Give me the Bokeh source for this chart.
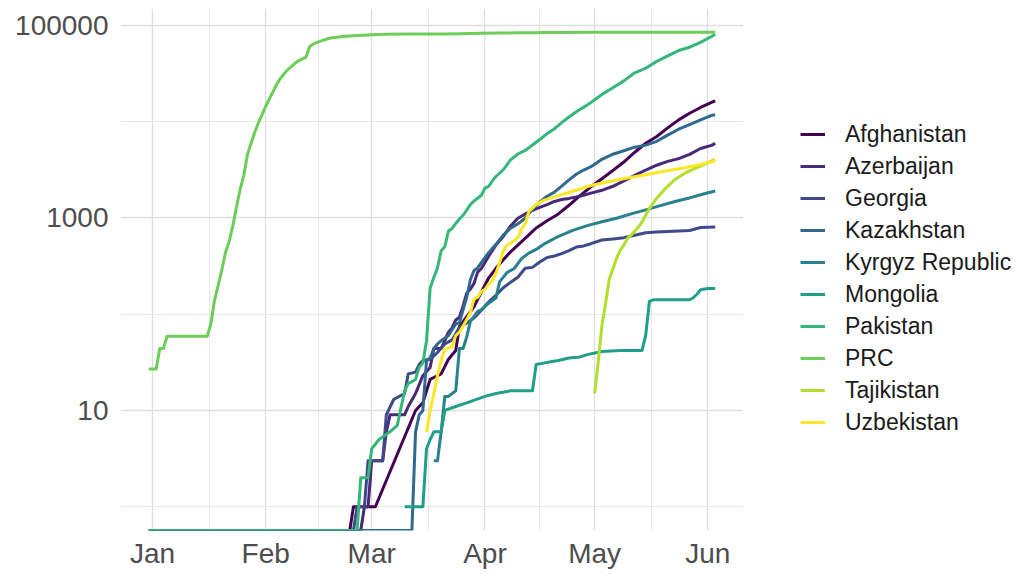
import numpy as np
import pandas as pd
from bokeh.plotting import figure
from bokeh.layouts import row
from bokeh.models import (Range1d, FixedTicker, NumeralTickFormatter,
                          DatetimeTickFormatter, Legend, LegendItem)
from bokeh.embed import file_html
from bokeh.resources import INLINE

countries = ["Afghanistan", "Azerbaijan", "Georgia", "Kazakhstan", "Kyrgyz Republic",
             "Mongolia", "Pakistan", "PRC", "Tajikistan", "Uzbekistan"]
colors = ["#440154", "#482878", "#3E4A89", "#31688E", "#26828E",
          "#1F9E89", "#35B779", "#6DCD59", "#B4DE2C", "#FDE725"]

afg_dates = ["2019-12-31", "2020-02-24", "2020-02-25", "2020-03-02", "2020-03-13", "2020-03-14",
             "2020-03-15", "2020-03-16", "2020-03-17", "2020-03-18", "2020-03-20", "2020-03-22",
             "2020-03-24", "2020-03-25", "2020-03-27", "2020-03-29", "2020-03-31", "2020-04-02",
             "2020-04-04", "2020-04-06", "2020-04-08", "2020-04-10", "2020-04-13", "2020-04-15",
             "2020-04-18", "2020-04-21", "2020-04-24", "2020-04-27", "2020-04-30", "2020-05-03",
             "2020-05-06", "2020-05-09", "2020-05-12", "2020-05-15", "2020-05-18", "2020-05-21",
             "2020-05-24", "2020-05-27", "2020-05-30", "2020-06-02", "2020-06-03"]
afg_cases = [0, 0, 1, 1, 10, 11, 12, 16, 21, 22, 24, 34, 42, 74, 94, 120, 170, 237, 299, 367,
             444, 521, 665, 784, 933, 1092, 1351, 1703, 2100, 2550, 3100, 3800, 4800, 5950,
             7000, 8600, 10400, 12200, 14000, 15800, 16400]

aze_dates = ["2019-12-31", "2020-02-27", "2020-02-28", "2020-02-29", "2020-03-01", "2020-03-04",
             "2020-03-05", "2020-03-06", "2020-03-10", "2020-03-11", "2020-03-13", "2020-03-15",
             "2020-03-17", "2020-03-18", "2020-03-20", "2020-03-21", "2020-03-22", "2020-03-23",
             "2020-03-24", "2020-03-25", "2020-03-26", "2020-03-27", "2020-03-28", "2020-03-29",
             "2020-03-30", "2020-03-31", "2020-04-02", "2020-04-04", "2020-04-06", "2020-04-08",
             "2020-04-10", "2020-04-12", "2020-04-14", "2020-04-16", "2020-04-18", "2020-04-20",
             "2020-04-22", "2020-04-24", "2020-04-26", "2020-04-28", "2020-04-30", "2020-05-03",
             "2020-05-06", "2020-05-09", "2020-05-12", "2020-05-15", "2020-05-18", "2020-05-21",
             "2020-05-24", "2020-05-27", "2020-05-30", "2020-06-02", "2020-06-03"]
aze_cases = [0, 0, 1, 1, 3, 3, 6, 9, 9, 11, 15, 23, 28, 44, 44, 53, 65, 72, 87, 93, 122, 165,
             182, 209, 273, 298, 400, 521, 641, 822, 991, 1098, 1197, 1283, 1373, 1480, 1548,
             1592, 1645, 1717, 1804, 1932, 2127, 2422, 2758, 3138, 3518, 3855, 4122, 4568, 5246,
             5662, 5935]

geo_dates = ["2019-12-31", "2020-02-25", "2020-02-26", "2020-02-28", "2020-02-29", "2020-03-04",
             "2020-03-05", "2020-03-07", "2020-03-10", "2020-03-11", "2020-03-13", "2020-03-14",
             "2020-03-15", "2020-03-17", "2020-03-19", "2020-03-21", "2020-03-23", "2020-03-25",
             "2020-03-27", "2020-03-29", "2020-03-31", "2020-04-02", "2020-04-04", "2020-04-06",
             "2020-04-08", "2020-04-10", "2020-04-12", "2020-04-14", "2020-04-16", "2020-04-18",
             "2020-04-20", "2020-04-22", "2020-04-24", "2020-04-26", "2020-04-28", "2020-04-30",
             "2020-05-03", "2020-05-06", "2020-05-09", "2020-05-12", "2020-05-15", "2020-05-18",
             "2020-05-21", "2020-05-24", "2020-05-27", "2020-05-30", "2020-06-03"]
geo_cases = [0, 0, 1, 1, 3, 3, 9, 13, 15, 24, 25, 30, 33, 34, 40, 49, 54, 73, 81, 91, 110, 134,
             157, 188, 214, 242, 300, 306, 348, 388, 402, 425, 456, 497, 511, 539, 589, 604, 623,
             660, 701, 713, 721, 732, 738, 794, 805]

kaz_dates = ["2019-12-31", "2020-03-12", "2020-03-13", "2020-03-14", "2020-03-15", "2020-03-16",
             "2020-03-17", "2020-03-18", "2020-03-19", "2020-03-20", "2020-03-22", "2020-03-24",
             "2020-03-25", "2020-03-26", "2020-03-27", "2020-03-28", "2020-03-29", "2020-03-30",
             "2020-03-31", "2020-04-02", "2020-04-04", "2020-04-06", "2020-04-08", "2020-04-10",
             "2020-04-12", "2020-04-14", "2020-04-16", "2020-04-18", "2020-04-20", "2020-04-22",
             "2020-04-24", "2020-04-26", "2020-04-28", "2020-04-30", "2020-05-03", "2020-05-06",
             "2020-05-09", "2020-05-12", "2020-05-15", "2020-05-18", "2020-05-21", "2020-05-24",
             "2020-05-27", "2020-05-30", "2020-06-02", "2020-06-03"]
kaz_cases = [0, 0, 6, 9, 10, 33, 35, 44, 49, 53, 60, 79, 81, 111, 150, 228, 284, 302, 343, 435,
             531, 662, 781, 865, 990, 1232, 1459, 1676, 1852, 2135, 2482, 2835, 3138, 3402, 4049,
             4578, 4975, 5417, 5689, 6236, 7234, 8322, 9304, 10382, 11571, 11796]

kgz_dates = ["2020-03-18", "2020-03-19", "2020-03-20", "2020-03-21", "2020-03-22", "2020-03-24",
             "2020-03-25", "2020-03-26", "2020-03-27", "2020-03-28", "2020-03-30", "2020-03-31",
             "2020-04-02", "2020-04-04", "2020-04-05", "2020-04-07", "2020-04-09", "2020-04-11",
             "2020-04-13", "2020-04-15", "2020-04-17", "2020-04-21", "2020-04-25", "2020-04-29",
             "2020-05-03", "2020-05-07", "2020-05-11", "2020-05-15", "2020-05-19", "2020-05-23",
             "2020-05-27", "2020-05-31", "2020-06-03"]
kgz_cases = [3, 3, 6, 14, 14, 16, 44, 44, 58, 84, 107, 111, 130, 147, 216, 270, 298, 377, 430,
             470, 530, 640, 740, 830, 910, 990, 1100, 1210, 1340, 1480, 1610, 1780, 1900]

mng_dates = ["2020-03-10", "2020-03-15", "2020-03-16", "2020-03-17", "2020-03-18", "2020-03-20",
             "2020-03-21", "2020-03-24", "2020-03-27", "2020-04-01", "2020-04-04", "2020-04-08",
             "2020-04-14", "2020-04-15", "2020-04-17", "2020-04-19", "2020-04-21", "2020-04-24",
             "2020-04-27", "2020-04-29", "2020-05-03", "2020-05-08", "2020-05-14", "2020-05-15",
             "2020-05-16", "2020-05-17", "2020-05-27", "2020-05-28", "2020-05-29", "2020-05-30",
             "2020-06-01", "2020-06-03"]
mng_cases = [1, 1, 4, 5, 6, 6, 10, 11, 12, 14, 15, 16, 16, 30, 31, 32, 33, 35, 36, 38, 41, 42,
             42, 61, 136, 141, 141, 148, 161, 179, 185, 185]

pak_dates = ["2019-12-31", "2020-02-26", "2020-02-27", "2020-02-29", "2020-03-01", "2020-03-03",
             "2020-03-06", "2020-03-08", "2020-03-10", "2020-03-11", "2020-03-13", "2020-03-14",
             "2020-03-15", "2020-03-16", "2020-03-17", "2020-03-18", "2020-03-19", "2020-03-20",
             "2020-03-21", "2020-03-22", "2020-03-23", "2020-03-24", "2020-03-25", "2020-03-26",
             "2020-03-27", "2020-03-28", "2020-03-29", "2020-03-30", "2020-03-31", "2020-04-01",
             "2020-04-02", "2020-04-03", "2020-04-04", "2020-04-06", "2020-04-08", "2020-04-10",
             "2020-04-12", "2020-04-14", "2020-04-16", "2020-04-18", "2020-04-20", "2020-04-22",
             "2020-04-24", "2020-04-26", "2020-04-28", "2020-04-30", "2020-05-03", "2020-05-06",
             "2020-05-09", "2020-05-12", "2020-05-15", "2020-05-18", "2020-05-21", "2020-05-24",
             "2020-05-27", "2020-05-30", "2020-06-02", "2020-06-03"]
pak_cases = [0, 0, 2, 2, 4, 5, 6, 7, 16, 19, 21, 28, 31, 53, 187, 241, 302, 454, 501, 730, 776,
             875, 972, 1063, 1201, 1373, 1495, 1597, 1717, 2039, 2118, 2421, 2686, 3157, 4004,
             4601, 5011, 5716, 6505, 7481, 8418, 9749, 11155, 12657, 14079, 15759, 19103, 22413,
             26435, 32081, 35788, 42125, 48091, 54601, 59151, 66457, 76398, 80463]

prc_dates = ["2019-12-31", "2020-01-02", "2020-01-03", "2020-01-04", "2020-01-05", "2020-01-16",
             "2020-01-17", "2020-01-18", "2020-01-19", "2020-01-20", "2020-01-21", "2020-01-22",
             "2020-01-23", "2020-01-24", "2020-01-25", "2020-01-26", "2020-01-27", "2020-01-28",
             "2020-01-29", "2020-01-30", "2020-01-31", "2020-02-01", "2020-02-02", "2020-02-03",
             "2020-02-04", "2020-02-05", "2020-02-06", "2020-02-07", "2020-02-08", "2020-02-09",
             "2020-02-10", "2020-02-11", "2020-02-12", "2020-02-13", "2020-02-14", "2020-02-15",
             "2020-02-16", "2020-02-17", "2020-02-18", "2020-02-19", "2020-02-20", "2020-02-22",
             "2020-02-24", "2020-02-26", "2020-02-28", "2020-03-01", "2020-03-05", "2020-03-10",
             "2020-03-15", "2020-03-20", "2020-03-25", "2020-03-31", "2020-04-05", "2020-04-10",
             "2020-04-15", "2020-04-17", "2020-04-20", "2020-05-01", "2020-05-15", "2020-06-03"]
prc_cases = [27, 27, 44, 44, 59, 59, 80, 141, 200, 291, 440, 571, 830, 1297, 1985, 2761, 4537,
             5997, 7736, 9720, 11821, 14411, 17238, 20471, 24363, 28060, 31211, 34598, 37251,
             40235, 42708, 44730, 46550, 59804, 63851, 66492, 68500, 70548, 72436, 74185, 74576,
             76288, 77150, 78064, 78824, 79824, 80552, 80904, 81048, 81300, 81747, 82545, 83005,
             83369, 83745, 84149, 84237, 84385, 84487, 84602]

tjk_dates = ["2020-05-01", "2020-05-02", "2020-05-03", "2020-05-04", "2020-05-05", "2020-05-06",
             "2020-05-07", "2020-05-08", "2020-05-09", "2020-05-10", "2020-05-11", "2020-05-12",
             "2020-05-13", "2020-05-14", "2020-05-16", "2020-05-18", "2020-05-20", "2020-05-23",
             "2020-05-26", "2020-05-28", "2020-05-30", "2020-06-01", "2020-06-03"]
tjk_cases = [15, 32, 76, 128, 230, 293, 379, 461, 522, 612, 661, 729, 801, 907, 1250, 1600,
             1950, 2500, 2950, 3200, 3450, 3750, 4050]

uzb_dates = ["2020-03-16", "2020-03-17", "2020-03-18", "2020-03-19", "2020-03-20", "2020-03-21",
             "2020-03-23", "2020-03-24", "2020-03-25", "2020-03-26", "2020-03-27", "2020-03-28",
             "2020-03-29", "2020-03-30", "2020-03-31", "2020-04-01", "2020-04-02", "2020-04-03",
             "2020-04-04", "2020-04-05", "2020-04-06", "2020-04-07", "2020-04-08", "2020-04-09",
             "2020-04-10", "2020-04-11", "2020-04-12", "2020-04-13", "2020-04-15", "2020-04-17",
             "2020-04-20", "2020-04-25", "2020-04-30", "2020-05-05", "2020-05-10", "2020-05-15",
             "2020-05-20", "2020-05-25", "2020-05-31", "2020-06-03"]
uzb_cases = [6, 10, 15, 23, 33, 43, 46, 60, 65, 75, 88, 104, 144, 149, 172, 181, 205, 221, 266,
             342, 457, 520, 545, 582, 624, 767, 865, 1165, 1370, 1520, 1650, 1890, 2170, 2380,
             2590, 2800, 3050, 3280, 3650, 3920]

series_dates = [afg_dates, aze_dates, geo_dates, kaz_dates, kgz_dates,
                mng_dates, pak_dates, prc_dates, tjk_dates, uzb_dates]
series_cases = [afg_cases, aze_cases, geo_cases, kaz_cases, kgz_cases,
                mng_cases, pak_cases, prc_cases, tjk_cases, uzb_cases]

y_major_ticks = [10, 1000, 100000]
y_minor_ticks = [1, 100, 10000]
x_month_ticks = ["2020-01-01", "2020-02-01", "2020-03-01", "2020-04-01", "2020-05-01", "2020-06-01"]

# ranges (ggplot-like 5% expansion, log for y)
all_vals = np.concatenate([np.asarray(v, dtype=float) for v in series_cases])
pos = all_vals[all_vals > 0]
lo, hi = np.log10(pos.min()), np.log10(pos.max())
pad = 0.05 * (hi - lo)
y0, y1 = 10 ** (lo - pad), 10 ** (hi + pad)

all_dates = pd.to_datetime(np.concatenate([np.asarray(d) for d in series_dates]))
dmin, dmax = all_dates.min(), all_dates.max()
dpad = (dmax - dmin) * 0.05
x0, x1 = dmin - dpad, dmax + dpad

p = figure(width=743, height=574, x_axis_type="datetime", y_axis_type="log",
           x_range=Range1d(x0, x1), y_range=Range1d(y0, y1),
           output_backend="svg", toolbar_location=None,
           min_border_left=120, min_border_right=0, min_border_top=8, min_border_bottom=44)
p.outline_line_color = None
p.background_fill_color = "white"

month_ms = [pd.Timestamp(m).value / 1e6 for m in x_month_ticks]
mid_ms = [(a + b) / 2 for a, b in zip(month_ms[:-1], month_ms[1:])]
p.xaxis.ticker = FixedTicker(ticks=month_ms, minor_ticks=mid_ms)
p.xaxis.formatter = DatetimeTickFormatter(days="%b", months="%b", years="%b")
p.yaxis.ticker = FixedTicker(ticks=y_major_ticks, minor_ticks=y_minor_ticks)
p.yaxis.formatter = NumeralTickFormatter(format="0")

for ax in (p.xaxis, p.yaxis):
    ax.axis_line_color = None
    ax.major_tick_line_color = None
    ax.minor_tick_line_color = None
    ax.major_tick_out = 0
    ax.minor_tick_out = 0
    ax.major_label_text_font = "Liberation Sans"
    ax.major_label_text_font_size = "28px"
    ax.major_label_text_color = "#4D4D4D"
p.yaxis.major_label_standoff = 12
p.xaxis.major_label_standoff = 7

for g in (p.xgrid, p.ygrid):
    g.grid_line_color = "#DEDEDE"
    g.grid_line_width = 1.3
    g.minor_grid_line_color = "#E8E8E8"
    g.minor_grid_line_width = 1.0

for name, col, d, v in zip(countries, colors, series_dates, series_cases):
    vals = np.asarray(v, dtype=float)
    yv = np.where(vals > 0, vals, y0)
    p.line(pd.to_datetime(d), yv, line_color=col, line_width=3, line_join="round")

# legend panel (separate canvas to the right of the plot; its frame aligns with the plot's)
lg = figure(width=274, height=574, x_range=Range1d(0, 1), y_range=Range1d(0, 1),
            output_backend="svg", toolbar_location=None, min_border=0)
lg.axis.visible = False
lg.grid.visible = False
lg.outline_line_color = None
items = []
for name, col in zip(countries, colors):
    # key-only line kept outside the visible range of the legend canvas
    r = lg.line(x=[-2, -1], y=[-2, -1], line_color=col, line_width=3)
    items.append(LegendItem(label=name, renderers=[r]))
legend = Legend(items=items, location=(57, 92), orientation="vertical",
                label_text_font="Liberation Sans", label_text_font_size="23px",
                label_text_color="#1A1A1A", glyph_width=25, glyph_height=32,
                label_height=32, label_standoff=20, spacing=0, padding=0, margin=0,
                border_line_color=None, background_fill_alpha=0)
lg.add_layout(legend)

layout = row(p, lg, spacing=0)
open("out.html", "w").write(file_html(layout, INLINE))
